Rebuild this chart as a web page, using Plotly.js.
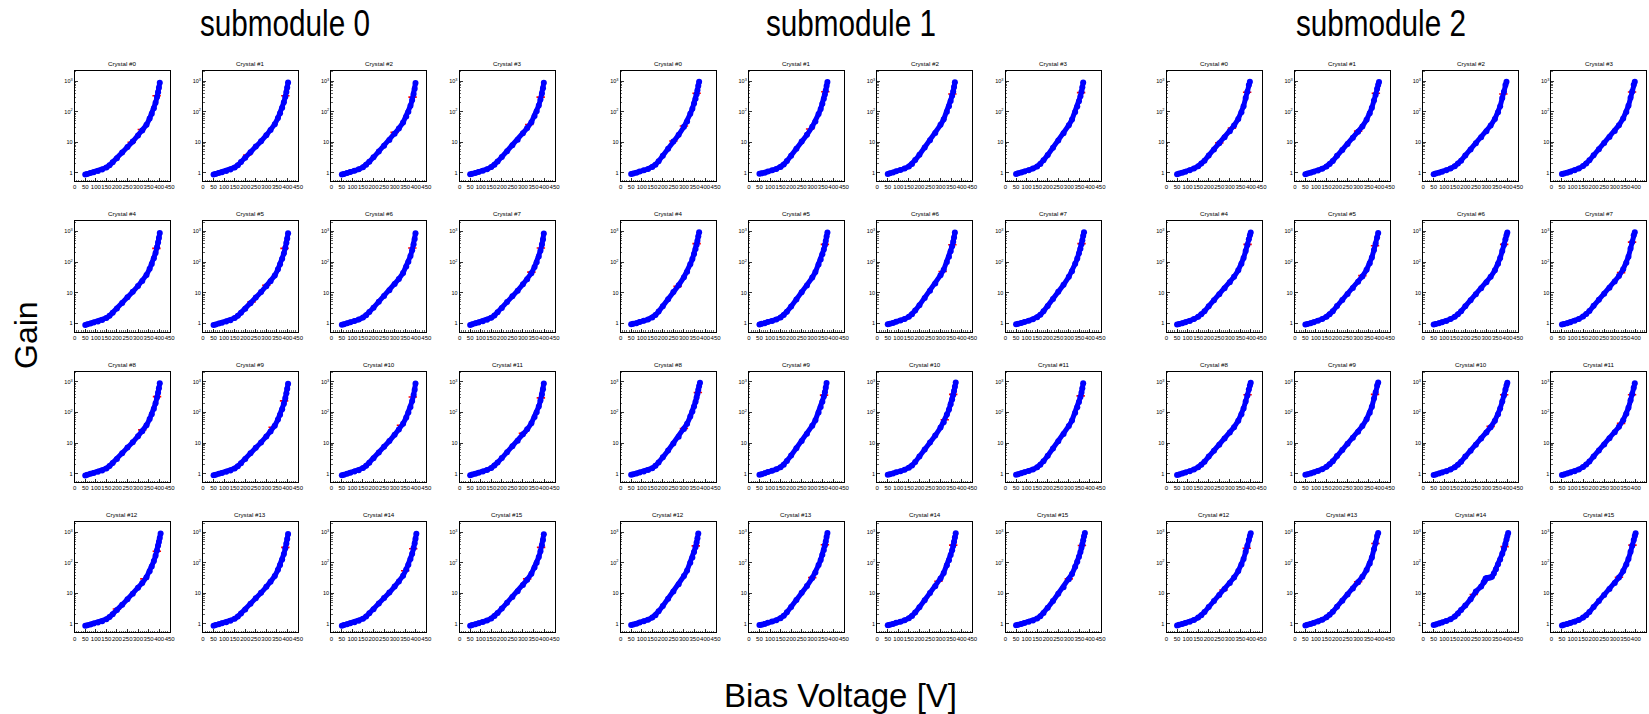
<!DOCTYPE html>
<html>
<head>
<meta charset="utf-8">
<script src="https://cdn.plot.ly/plotly-3.0.1.min.js"></script>
<style>
html, body { margin: 0; padding: 0; background: #ffffff; }
#chart { width: 1649px; height: 714px; }
</style>
</head>
<body>
<div id="chart"></div>
<script>
// ---------------- text ----------------
const submodule_titles = ["submodule 0", "submodule 1", "submodule 2"];
const crystal_labels = ["Crystal #0", "Crystal #1", "Crystal #2", "Crystal #3",
  "Crystal #4", "Crystal #5", "Crystal #6", "Crystal #7",
  "Crystal #8", "Crystal #9", "Crystal #10", "Crystal #11",
  "Crystal #12", "Crystal #13", "Crystal #14", "Crystal #15"];
const x_axis_title = "Bias Voltage [V]";
const y_axis_title = "Gain";
const x_tick_values = [0, 50, 100, 150, 200, 250, 300, 350, 400, 450];
const x_tick_labels = ["0", "50", "100", "150", "200", "250", "300", "350", "400", "450"];
const y_tick_values = [1, 10, 100, 1000];
const y_tick_labels = ["1", "10", "10<sup>2</sup>", "10<sup>3</sup>"];
const y_minor_tick_values = [2, 3, 4, 5, 6, 7, 8, 9, 20, 30, 40, 50, 60, 70, 80, 90, 200, 300, 400, 500, 600, 700, 800, 900, 2000];

// ---------------- data: submodule 0 ----------------
const bias_voltage_sm0 = [50, 60, 75, 90, 110, 130, 150, 165, 180, 200, 225, 250, 275, 300, 320, 340, 355, 365, 375, 383, 390, 395, 399, 403, 407, 411];
const gain_sm0 = [
  [0.88,0.92,0.98,1.05,1.14,1.27,1.48,1.76,2.2,3.0,4.6,7.0,10.5,16.5,24,37,60,85,130,195,300,430,600,880],
  [0.88,0.92,0.98,1.05,1.15,1.28,1.5,1.78,2.25,3.1,4.7,7.2,10.8,17,25,39,62,88,135,205,310,440,620,900],
  [0.88,0.92,0.99,1.06,1.16,1.3,1.52,1.82,2.3,3.2,5.0,7.7,11.8,19,28,44,70,100,155,240,380,560,870],
  [0.89,0.93,0.99,1.07,1.17,1.31,1.54,1.85,2.35,3.3,5.1,7.9,12,19.5,29,45,72,104,160,250,390,580,880],
  [0.88,0.92,0.98,1.05,1.14,1.27,1.48,1.75,2.2,3.0,4.6,7.0,10.6,16.5,24,38,60,86,132,198,305,440,610,890],
  [0.87,0.91,0.97,1.04,1.13,1.26,1.47,1.74,2.18,2.95,4.5,6.9,10.4,16.2,23.5,36,58,84,128,192,296,425,590,880],
  [0.89,0.93,1.0,1.07,1.17,1.31,1.53,1.83,2.32,3.22,5.0,7.8,11.9,19.2,28,44,71,102,158,245,385,570,880],
  [0.88,0.92,0.99,1.06,1.16,1.3,1.51,1.8,2.28,3.15,4.9,7.6,11.6,18.8,27.5,43,69,99,152,236,372,550,860],
  [0.87,0.91,0.98,1.05,1.14,1.27,1.48,1.76,2.22,3.02,4.65,7.1,10.7,16.8,24.5,38,61,87,133,200,308,445,620,900],
  [0.88,0.92,0.98,1.05,1.14,1.27,1.48,1.75,2.2,3.0,4.6,7.0,10.5,16.4,24,37,59,84,128,193,298,428,595,870],
  [0.88,0.92,0.99,1.06,1.16,1.29,1.51,1.8,2.28,3.15,4.9,7.6,11.6,18.8,27.5,43,69,99,152,236,372,550,880],
  [0.89,0.93,0.99,1.07,1.17,1.31,1.53,1.83,2.32,3.22,5.0,7.8,11.9,19.2,28,44,71,102,158,245,385,570,890],
  [0.87,0.91,0.97,1.04,1.12,1.24,1.44,1.7,2.1,2.85,4.3,6.5,9.8,15.2,22,34,53,76,115,170,255,360,480,650,920],
  [0.88,0.92,0.98,1.05,1.14,1.27,1.48,1.75,2.2,3.0,4.6,7.0,10.5,16.5,24,37,60,85,130,195,300,430,600,880],
  [0.88,0.92,0.98,1.05,1.15,1.28,1.49,1.77,2.23,3.05,4.7,7.1,10.7,16.8,24.5,38,61,87,133,200,308,440,615,900],
  [0.88,0.92,0.99,1.06,1.16,1.3,1.52,1.82,2.3,3.2,5.0,7.7,11.8,19,28,44,70,100,155,240,380,560,870]
];
const red_voltage_sm0 = [
  [388,318,270],[390,210],[385,300],[384,330],
  [387],[386,300,230],[384],[385,340],
  [390,320],[384,330],[386,330],[385,300],
  [389,330,200],[390],[388,350],[386,320]
];
const red_gain_sm0 = [
  [330,26,10],[330,3.8],[300,21],[300,38],
  [280],[280,17.5,5.0],[290],[290,47],
  [330,27],[240,33],[320,38],[300,21],
  [240,30,3.1],[320],[290,55],[320,30]
];

// ---------------- data: submodule 1 ----------------
const bias_voltage_sm1 = [50, 60, 75, 90, 110, 130, 150, 165, 180, 200, 225, 250, 275, 300, 315, 330, 340, 348, 355, 360, 364, 368, 372, 376, 380];
const gain_sm1 = [
  [0.92,0.95,1.0,1.1,1.2,1.33,1.55,1.85,2.4,3.6,6.1,10.5,17.5,32,48,85,125,185,265,370,500,700,950],
  [0.93,0.96,1.01,1.1,1.2,1.34,1.56,1.87,2.42,3.6,6.1,10.5,17.5,32,48,84,123,182,262,365,495,690,940],
  [0.92,0.96,1.02,1.12,1.23,1.38,1.62,1.95,2.6,3.9,6.7,11.6,20,37,56,100,150,225,330,460,640,920],
  [0.92,0.96,1.02,1.11,1.22,1.37,1.6,1.93,2.55,3.85,6.6,11.4,19.6,36,55,98,147,220,322,450,625,900],
  [0.92,0.95,1.0,1.1,1.2,1.33,1.55,1.85,2.4,3.6,6.1,10.5,17.5,32,48,85,125,185,265,370,500,700,950],
  [0.91,0.95,1.0,1.09,1.19,1.32,1.54,1.84,2.38,3.55,6.0,10.3,17.2,31,47,83,122,180,258,360,490,680,930],
  [0.92,0.96,1.02,1.12,1.23,1.38,1.62,1.95,2.6,3.9,6.7,11.6,20,37,56,100,150,225,330,460,640,920],
  [0.92,0.95,1.01,1.1,1.21,1.35,1.57,1.88,2.45,3.65,6.2,10.7,18,33,50,88,130,192,275,385,520,720,950],
  [0.91,0.95,1.0,1.08,1.18,1.3,1.5,1.8,2.3,3.4,5.7,9.7,16,29,43,74,108,158,225,310,410,550,740,940],
  [0.92,0.96,1.02,1.12,1.23,1.38,1.62,1.95,2.6,3.9,6.7,11.6,20,37,56,100,150,225,330,460,640,920],
  [0.92,0.95,1.0,1.1,1.2,1.33,1.55,1.85,2.4,3.6,6.1,10.5,17.5,32,48,85,125,185,265,370,500,700,950],
  [0.92,0.96,1.02,1.11,1.22,1.37,1.6,1.93,2.55,3.85,6.6,11.4,19.6,36,55,98,147,220,322,450,625,900],
  [0.92,0.96,1.02,1.12,1.23,1.38,1.62,1.95,2.6,3.9,6.7,11.6,20,37,56,100,150,225,330,460,640,920],
  [0.92,0.95,1.0,1.1,1.2,1.33,1.55,1.85,2.4,3.6,6.1,10.5,17.5,32,48,85,125,185,265,370,500,700,950],
  [0.91,0.95,1.0,1.09,1.19,1.32,1.54,1.84,2.38,3.55,6.0,10.3,17.2,31,47,83,122,180,258,360,490,680,930],
  [0.91,0.95,1.0,1.08,1.18,1.3,1.5,1.8,2.3,3.4,5.7,9.7,16,29,43,74,108,158,225,310,410,550,740,940]
];
const red_voltage_sm1 = [
  [360,300,250],[362,290],[356],[358],
  [360,270],[360],[356,310],[360],
  [366,300],[356],[360,320],[356],
  [356],[360,300],[360,290],[362,300]
];
const red_gain_sm1 = [
  [400,34,11],[450,27],[380],[420],
  [400,16],[380],[370,49],[400],
  [450,30],[370],[390,58],[350],
  [360],[390,33],[380,25],[370,30]
];

// ---------------- data: submodule 2 ----------------
const bias_voltage_sm2 = [50, 60, 75, 90, 110, 130, 150, 165, 180, 200, 225, 250, 275, 300, 320, 340, 355, 365, 375, 383, 390, 395, 399, 403, 407, 411];
const bias_voltage_sm2_crystal14 = [50, 60, 75, 90, 110, 130, 150, 165, 180, 200, 225, 250, 275, 287, 292, 296, 302, 310, 318, 326, 335, 345, 355, 365, 375, 383, 390, 395, 399, 403];
const gain_sm2 = [
  [0.9,0.94,1.0,1.08,1.2,1.38,1.65,2.0,2.5,3.7,5.8,9.2,14.5,23,35,58,95,150,280,450,750,950],
  [0.9,0.94,1.0,1.08,1.19,1.36,1.62,1.95,2.45,3.6,5.6,8.8,14,22,33,54,88,135,230,360,560,760,930],
  [0.9,0.94,1.0,1.08,1.2,1.38,1.65,2.0,2.5,3.7,5.8,9.2,14.5,23,35,58,95,150,280,450,750,950],
  [0.91,0.95,1.01,1.09,1.21,1.39,1.66,2.02,2.55,3.75,5.9,9.4,14.8,23.5,36,60,98,155,285,460,760,950],
  [0.9,0.94,1.0,1.08,1.19,1.36,1.62,1.95,2.45,3.6,5.6,8.8,14,22,33,54,88,135,230,360,560,760,930],
  [0.9,0.94,1.0,1.08,1.2,1.37,1.64,1.98,2.48,3.65,5.7,9.0,14.2,22.5,34,56,91,142,250,400,640,900],
  [0.9,0.94,1.0,1.08,1.19,1.36,1.62,1.95,2.45,3.6,5.6,8.8,14,22,33,54,88,135,230,360,560,760,930],
  [0.9,0.94,1.0,1.08,1.2,1.38,1.65,2.0,2.5,3.7,5.8,9.2,14.5,23,35,58,95,150,280,450,750,950],
  [0.9,0.94,1.0,1.08,1.19,1.36,1.62,1.95,2.45,3.6,5.6,8.8,14,22,33,54,88,135,230,360,560,760,930],
  [0.91,0.95,1.01,1.09,1.21,1.39,1.66,2.02,2.55,3.75,5.9,9.4,14.8,23.5,36,60,98,155,285,460,760,950],
  [0.9,0.94,1.0,1.08,1.19,1.36,1.62,1.95,2.45,3.6,5.6,8.8,14,22,33,54,88,135,230,360,560,760,930],
  [0.9,0.94,1.0,1.08,1.2,1.37,1.64,1.98,2.48,3.65,5.7,9.0,14.2,22.5,34,56,91,142,250,400,640,900],
  [0.9,0.94,1.0,1.08,1.19,1.36,1.62,1.95,2.45,3.6,5.6,8.8,14,22,33,54,88,135,230,360,560,760,930],
  [0.9,0.94,1.0,1.08,1.2,1.38,1.65,2.0,2.5,3.7,5.8,9.2,14.5,23,35,58,95,150,280,450,750,950],
  [0.93,0.97,1.03,1.12,1.25,1.42,1.75,2.2,2.85,4.0,6.5,11.5,17,23,26,31,32,32.5,33,35,45,62,90,130,200,290,420,580,760,940],
  [0.9,0.94,1.0,1.08,1.19,1.36,1.62,1.95,2.45,3.6,5.6,8.8,14,22,33,54,88,135,230,360,560,760,930]
];
const red_voltage_sm2 = [
  [382,310,250],[384,300],[380],[382],
  [384],[380,320],[384],[382,330],
  [384],[380],[384,320],[382,330],
  [380,270],[382,300],[386,240],[384,320]
];
const red_gain_sm2 = [
  [430,29,9.5],[400,23],[380],[440],
  [380],[340,36],[380],[450,45],
  [380],[390],[380,35],[380,44],
  [300,13],[430,24],[340,9.2],[380,34]
];

// ---------------- layout geometry (pixels) ----------------
const FIG_W = 1649, FIG_H = 714;
const SM_LEFT = [74.7, 620.6, 1166.5];
const COL_PITCH = 128.3;
const ROW_TOP = [70.7, 221.1, 371.5, 521.9];
const PANEL_W = 95;
const PANEL_H = 110.5;
const FONT = "Liberation Sans, Arial, Helvetica, sans-serif";

const voltages = [bias_voltage_sm0, bias_voltage_sm1, bias_voltage_sm2];
const gains = [gain_sm0, gain_sm1, gain_sm2];
const redV = [red_voltage_sm0, red_voltage_sm1, red_voltage_sm2];
const redG = [red_gain_sm0, red_gain_sm1, red_gain_sm2];

const data = [];
const layout = {
  width: FIG_W, height: FIG_H,
  margin: {l: 0, r: 0, t: 0, b: 0, pad: 0},
  paper_bgcolor: "#ffffff", plot_bgcolor: "#ffffff",
  showlegend: false,
  font: {family: FONT, color: "#000000"},
  annotations: []
};

for (let s = 0; s < 3; s++) {
  for (let c = 0; c < 16; c++) {
    const idx = s * 16 + c + 1;
    const sfx = idx === 1 ? "" : String(idx);
    const row = Math.floor(c / 4), col = c % 4;
    const left = SM_LEFT[s] + col * COL_PITCH;
    const top = ROW_TOP[row];
    const xv = (s === 2 && c === 14) ? bias_voltage_sm2_crystal14 : voltages[s];
    const gv = gains[s][c];

    data.push({
      type: "scatter", mode: "markers",
      x: redV[s][c], y: redG[s][c],
      xaxis: "x" + sfx, yaxis: "y" + sfx,
      marker: {symbol: "line-ew", size: 6, line: {color: "#ff0000", width: 1.6}},
      hoverinfo: "skip"
    });
    data.push({
      type: "scatter", mode: "lines+markers",
      x: xv.slice(0, gv.length), y: gv,
      xaxis: "x" + sfx, yaxis: "y" + sfx,
      line: {color: "#0000ff", width: 5},
      marker: {color: "#0000ff", size: 6, symbol: "circle"},
      hoverinfo: "skip"
    });

    layout["xaxis" + sfx] = {
      domain: [left / FIG_W, (left + PANEL_W) / FIG_W],
      anchor: "y" + sfx,
      range: [0, 450],
      tickmode: "array", tickvals: x_tick_values, ticktext: x_tick_labels,
      ticks: "inside", ticklen: 3, tickwidth: 0.8, tickcolor: "#000",
      minor: {ticks: "inside", ticklen: 1.5, dtick: 10, tickwidth: 0.6, tickcolor: "#000", showgrid: false},
      showline: true, mirror: true, linecolor: "#000", linewidth: 1,
      showgrid: false, zeroline: false, tickangle: 0,
      tickfont: {family: FONT, size: 6, color: "#000"},
      fixedrange: true
    };
    layout["yaxis" + sfx] = {
      domain: [1 - (top + PANEL_H) / FIG_H, 1 - top / FIG_H],
      anchor: "x" + sfx,
      type: "log", range: [-0.275, 3.34],
      tickmode: "array", tickvals: y_tick_values, ticktext: y_tick_labels,
      ticks: "inside", ticklen: 3, tickwidth: 0.8, tickcolor: "#000",
      minor: {ticks: "inside", ticklen: 1.5, tickvals: y_minor_tick_values, tickwidth: 0.6, tickcolor: "#000", showgrid: false},
      showline: true, mirror: true, linecolor: "#000", linewidth: 1,
      showgrid: false, zeroline: false,
      tickfont: {family: FONT, size: 5.5, color: "#000"},
      fixedrange: true
    };
    layout.annotations.push({
      xref: "paper", yref: "paper",
      x: (left + PANEL_W / 2) / FIG_W, y: 1 - (top - 7.5) / FIG_H,
      xanchor: "center", yanchor: "middle", showarrow: false,
      text: crystal_labels[c],
      font: {family: FONT, size: 6.2, color: "#000"}
    });
  }
}

const SM_TITLE_X = [285, 851, 1381];
for (let s = 0; s < 3; s++) {
  layout.annotations.push({
    xref: "paper", yref: "paper",
    x: SM_TITLE_X[s] / FIG_W, y: 1 - 23.5 / FIG_H,
    xanchor: "center", yanchor: "middle", showarrow: false,
    text: submodule_titles[s],
    font: {family: FONT, size: 37, color: "#000"}
  });
}
layout.annotations.push({
  xref: "paper", yref: "paper",
  x: 26 / FIG_W, y: 1 - 335 / FIG_H,
  xanchor: "center", yanchor: "middle", showarrow: false,
  textangle: -90,
  text: y_axis_title,
  font: {family: FONT, size: 32, color: "#000"}
});
layout.annotations.push({
  xref: "paper", yref: "paper",
  x: 840 / FIG_W, y: 1 - 695 / FIG_H,
  xanchor: "center", yanchor: "middle", showarrow: false,
  text: x_axis_title,
  font: {family: FONT, size: 33, color: "#000"}
});

Plotly.newPlot("chart", data, layout, {displayModeBar: false, staticPlot: true}).then(function () {
  // the submodule headings use a condensed face; squeeze the real text glyphs to that width
  document.querySelectorAll("#chart .annotation-text").forEach(function (t) {
    if (submodule_titles.indexOf(t.textContent) >= 0) {
      t.setAttribute("textLength", "170");
      t.setAttribute("lengthAdjust", "spacingAndGlyphs");
    }
  });
});
</script>
</body>
</html>
